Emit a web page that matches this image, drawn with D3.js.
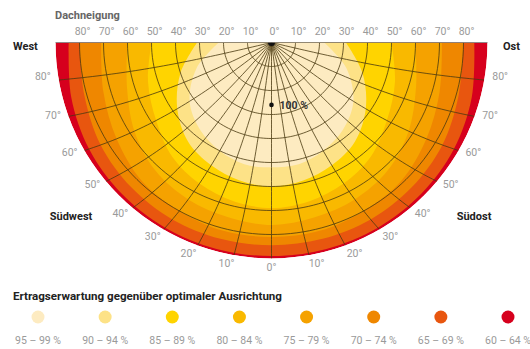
<!DOCTYPE html>
<html>
<head>
<meta charset="utf-8">
<script src="https://cdn.jsdelivr.net/npm/d3@7"></script>
<style>
    body { margin: 0; background: #fff; }
    svg { display: block; font-family: "Roboto", "Liberation Sans", sans-serif; }
</style>
</head>
<body>
<div id="chart"></div>
<script>
// roof tilt (deg) where the yield drops below each band, read per azimuth (deg from south)
const azimuths = [0, 15, 30, 45, 60, 75, 90];
const edge95 = [52, 52, 50, 47, 42, 33, 22];
const edge90 = [60, 59, 57, 54, 48, 40, 31];
const edge85 = [69, 68, 66, 63, 58, 54, 50];
const edge80 = [76, 75, 74, 72, 68, 63, 60];
const edge75 = [81, 81, 80, 79, 76, 73, 71];
const edge70 = [84.5, 84.5, 84.5, 84, 83, 81, 80];
const edge65 = [89, 89, 89, 88.7, 88, 86.5, 84.5];

const bandLabels = ["95 – 99 %", "90 – 94 %", "85 – 89 %", "80 – 84 %", "75 – 79 %", "70 – 74 %", "65 – 69 %", "60 – 64 %"];
const tiltTicks = [0, 10, 20, 30, 40, 50, 60, 70, 80];
const azimuthTicks = [0, 10, 20, 30, 40, 50, 60, 70, 80];
const optimumTilt = 26;
const optimumAzimuth = 0;

const colors = ["#fdebc1", "#fde287", "#ffd400", "#f9b900", "#f5a200", "#ef8700", "#e8560f", "#d6001d"];

const width = 530, height = 349;
const cx = 271.5, cy = 42.5, R = 216;
const rad = Math.PI / 180;

const svg = d3.select("#chart").append("svg")
    .attr("width", width)
    .attr("height", height);

const r = d3.scaleLinear().domain([0, 90]).range([0, R]);

// azimuth lines bend a little toward south near the centre, like in the original
function proj(tilt, az) {
    let t = tilt / 90;
    let a = Math.abs(az);
    let phi = a >= 90 ? 90 : Math.atan(Math.tan(a * rad) * (0.75 + 0.25 * t * t)) / rad;
    phi = phi * Math.sign(az);
    return [cx - r(tilt) * Math.sin(phi * rad), cy + r(tilt) * Math.cos(phi * rad)];
}

svg.append("clipPath").attr("id", "half")
    .append("path")
    .attr("d", `M${cx - R},${cy} A${R},${R} 0 0 0 ${cx + R},${cy} Z`);

let g = svg.append("g").attr("clip-path", "url(#half)");

// outer band fills the whole half disc
g.append("path")
    .attr("d", `M${cx - R},${cy} A${R},${R} 0 0 0 ${cx + R},${cy} Z`)
    .attr("fill", colors[7]);

let edges = [edge65, edge70, edge75, edge80, edge85, edge90, edge95];
let curve = d3.line().curve(d3.curveCatmullRom);

edges.forEach(function(edge, i) {
    let pts = [];
    // east side (negative) to west side (positive)
    for (let k = azimuths.length - 1; k > 0; k--) pts.push(proj(edge[k], -azimuths[k]));
    for (let k = 0; k < azimuths.length; k++) pts.push(proj(edge[k], azimuths[k]));
    g.append("path")
        .attr("d", curve(pts) + `L${cx},${cy}Z`)
        .attr("fill", colors[6 - i]);
});

// grid: tilt circles
let gridLine = d3.line();
for (let t = 10; t <= 80; t += 10) {
    let pts = d3.range(-90, 90.1, 2).map(a => proj(t, a));
    g.append("path")
        .attr("d", gridLine(pts))
        .attr("fill", "none")
        .attr("stroke", "#4a3a10")
        .attr("stroke-opacity", 0.8)
        .attr("stroke-width", 1);
}
// grid: azimuth lines
for (let a = -80; a <= 80; a += 10) {
    let pts = d3.range(0, 90.1, 2).map(t => proj(t, a));
    g.append("path")
        .attr("d", gridLine(pts))
        .attr("fill", "none")
        .attr("stroke", "#4a3a10")
        .attr("stroke-opacity", 0.8)
        .attr("stroke-width", 1);
}
g.append("circle")
    .attr("cx", cx).attr("cy", cy).attr("r", 3.5)
    .attr("fill", "#111");

svg.append("line")
    .attr("x1", cx - R).attr("x2", cx + R)
    .attr("y1", cy).attr("y2", cy)
    .attr("stroke", "#777")
    .attr("stroke-width", 0.8);

// optimum
let opt = proj(optimumTilt, optimumAzimuth);
svg.append("circle")
    .attr("cx", opt[0]).attr("cy", opt[1]).attr("r", 2.3)
    .attr("fill", "#111");
svg.append("text")
    .attr("x", opt[0] + 8).attr("y", opt[1] + 4)
    .attr("font-size", "10.5px").attr("font-weight", "bold")
    .attr("fill", "#333")
    .text("100 %");

// top tick labels (tilt)
svg.append("text")
    .attr("x", 55).attr("y", 19)
    .attr("font-size", "11px").attr("font-weight", "bold")
    .attr("fill", "#666")
    .text("Dachneigung");

tiltTicks.forEach(function(t) {
    let sides = t === 0 ? [1] : [-1, 1];
    sides.forEach(function(s) {
        svg.append("text")
            .attr("x", cx + s * r(t) + 3)
            .attr("y", 35)
            .attr("text-anchor", "middle")
            .attr("font-size", "10.5px")
            .attr("fill", "#9a9a9a")
            .text(t + "°");
    });
});

// rim tick labels (azimuth)
azimuthTicks.forEach(function(a) {
    let sides = a === 0 ? [1] : [-1, 1];
    sides.forEach(function(s) {
        let ang = (a + (a > 0 ? 1.5 : 0)) * rad;
        let rr = R + 9 + 7 * a / 90;
        svg.append("text")
            .attr("x", cx - s * rr * Math.sin(ang))
            .attr("y", cy + rr * Math.cos(ang))
            .attr("text-anchor", "middle")
            .attr("dominant-baseline", "central")
            .attr("font-size", "10.5px")
            .attr("fill", "#9a9a9a")
            .text(a + "°");
    });
});

// compass labels
let dirs = [["West", 13, 50, "start"], ["Ost", 503, 50, "start"], ["Südwest", 71, 220, "middle"], ["Südost", 474, 220, "middle"]];
dirs.forEach(function(d) {
    svg.append("text")
        .attr("x", d[1]).attr("y", d[2])
        .attr("text-anchor", d[3])
        .attr("font-size", "11px").attr("font-weight", "bold")
        .attr("fill", "#222")
        .text(d[0]);
});

// legend
svg.append("text")
    .attr("x", 13).attr("y", 300)
    .attr("font-size", "11px").attr("font-weight", "bold")
    .attr("fill", "#222")
    .attr("textLength", 269)
    .attr("lengthAdjust", "spacingAndGlyphs")
    .text("Ertragserwartung gegenüber optimaler Ausrichtung");

let lx = d3.scalePoint().domain(bandLabels).range([38, 508]);
bandLabels.forEach(function(lab, i) {
    svg.append("circle")
        .attr("cx", lx(lab)).attr("cy", 317).attr("r", 6.5)
        .attr("fill", colors[i]);
    svg.append("text")
        .attr("x", lx(lab)).attr("y", 344)
        .attr("text-anchor", "middle")
        .attr("font-size", "10.5px")
        .attr("fill", "#9a9a9a")
        .text(lab);
});
</script>
</body>
</html>
